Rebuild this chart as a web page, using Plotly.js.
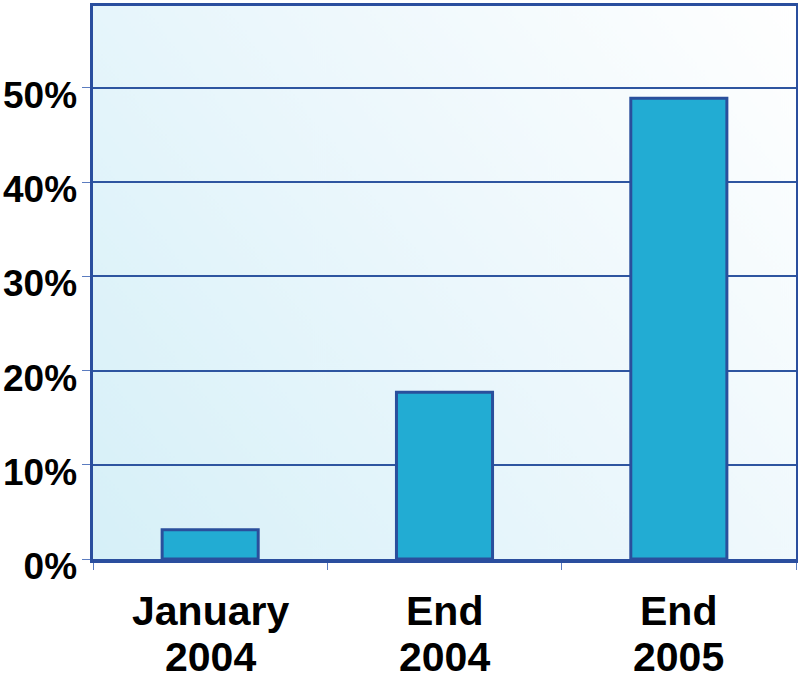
<!DOCTYPE html>
<html>
<head>
<meta charset="utf-8">
<script src="https://cdn.plot.ly/plotly-3.0.1.min.js"></script>
<style>
html,body{margin:0;padding:0;background:#fff;}
#chart{width:798px;height:685px;}
</style>
</head>
<body>
<div id="chart"></div>
<script>
const categories = ["January 2004", "End 2004", "End 2005"];
const labelLine1 = ["January", "End", "End"];
const labelLine2 = ["2004", "2004", "2005"];
const values = [3.1, 17.7, 48.9];
const yTickVals = [0, 10, 20, 30, 40, 50];
const yTickText = ["0%", "10%", "20%", "30%", "40%", "50%"];

// diagonal gradient background (light cyan bottom-left -> white top-right)
const cv = document.createElement('canvas');
cv.width = 700; cv.height = 550;
const ctx = cv.getContext('2d');
const g = ctx.createLinearGradient(0, 550, 700, 0);
g.addColorStop(0, '#d6f0f8');
g.addColorStop(0.5, '#ebf7fc');
g.addColorStop(1, '#ffffff');
ctx.fillStyle = g;
ctx.fillRect(0, 0, 700, 550);
const bg = cv.toDataURL('image/png');

const frame = '#2a4e9e';
const trace = {
  type: 'bar',
  x: categories,
  y: values,
  marker: {color: '#22acd3', line: {color: '#2a4f9c', width: 3}},
  hoverinfo: 'skip'
};

const labelFont = {family: '"Liberation Sans", Arial, sans-serif', size: 41, weight: 'bold', color: '#000'};
const annotations = [];
categories.forEach((c, i) => {
  annotations.push({xref: 'x', yref: 'paper', x: c, y: 0, yanchor: 'middle', xanchor: 'center',
    yshift: -52, text: labelLine1[i], showarrow: false, font: labelFont});
  annotations.push({xref: 'x', yref: 'paper', x: c, y: 0, yanchor: 'middle', xanchor: 'center',
    yshift: -98, text: labelLine2[i], showarrow: false, font: labelFont});
});

const layout = {
  width: 798, height: 685,
  margin: {l: 93, r: 2, t: 6, b: 126},
  paper_bgcolor: '#ffffff',
  plot_bgcolor: 'rgba(0,0,0,0)',
  showlegend: false,
  bargap: 0.59,
  font: {family: '"Liberation Sans", Arial, sans-serif', color: '#000'},
  images: [{source: bg, xref: 'paper', yref: 'paper', x: 0, y: 1, sizex: 1, sizey: 1,
            sizing: 'stretch', xanchor: 'left', yanchor: 'top', layer: 'below'}],
  annotations: annotations,
  xaxis: {
    showline: true, mirror: true, linewidth: 3.5, linecolor: frame,
    showgrid: false,
    tickson: 'boundaries',
    ticks: 'outside', ticklen: 7, tickwidth: 1, tickcolor: '#5b7cc0',
    showticklabels: false
  },
  yaxis: {
    range: [0, 58.7],
    showline: true, mirror: true, linewidth: 3.5, linecolor: frame,
    showgrid: true, gridcolor: '#2e55a0', gridwidth: 2,
    zeroline: false,
    tickvals: yTickVals, ticktext: yTickText,
    ticks: 'outside', ticklen: 8, tickwidth: 1, tickcolor: '#5b7cc0',
    tickfont: {size: 37, weight: 'bold', color: '#000'},
    ticklabelshift: 7,
    ticklabelstandoff: -3
  }
};

Plotly.newPlot('chart', [trace], layout, {staticPlot: true, displayModeBar: false});
</script>
</body>
</html>
